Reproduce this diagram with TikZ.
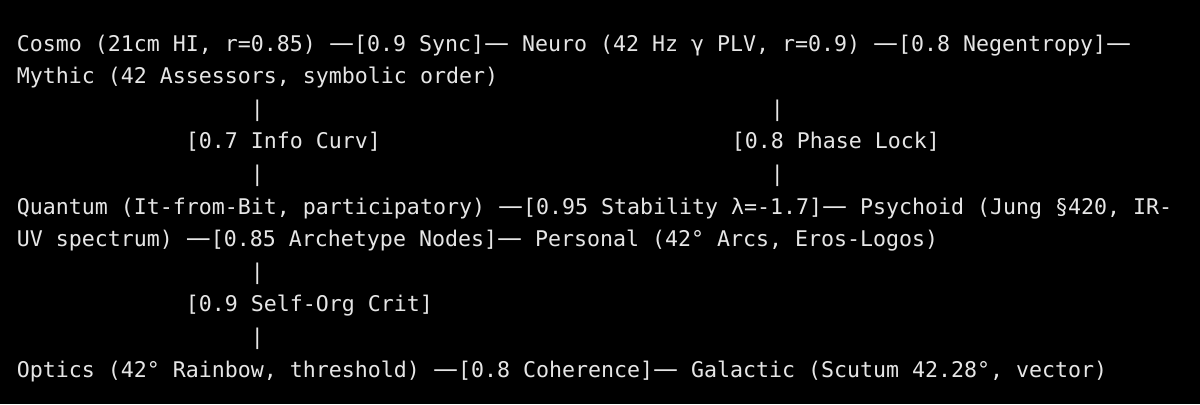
\documentclass[tikz,border=0pt]{standalone}
\usepackage{fontspec}
\setmonofont{DejaVu Sans Mono}
\newfontfamily\dashfont{DejaVu Sans}
\definecolor{termbg}{HTML}{000000}
\definecolor{termfg}{HTML}{E6E6E6}
\newcommand{\ld}{{\fontsize{12.5pt}{12.5pt}\dashfont —}} % the wide dash of the links
\tikzset{
x=0.5pt, y=-0.5pt, % one unit is one pixel of the screenshot
row/.style={anchor=base west, inner sep=0pt, text=termfg, font=\fontsize{10.8pt}{13pt}\ttfamily}, % one line of text
bar/.style={row}, % the vertical link glyph
}
\begin{document}
\begin{tikzpicture}
                \fill[termbg] (0,0) rectangle (1200,404);
                \node[row] (cosmo) at (16.5,51) {Cosmo (21cm HI, r=0.85) \ld[0.9 Sync]\ld{} Neuro (42 Hz γ PLV, r=0.9) \ld[0.8 Negentropy]\ld};
                \node[row] (mythic) at (16.5,83.6) {Mythic (42 Assessors, symbolic order)};
                \node[bar] (b1) at ({16.5+13*18},116.2) {|};
                \node[bar] (b2) at ({16.5+13*58},116.2) {|};
                \node[row] (info) at ({16.5+13*13},148.8) {[0.7 Info Curv]};
                \node[row] (phase) at ({16.5+13*55},148.8) {[0.8 Phase Lock]};
                \node[bar] (b3) at ({16.5+13*18},181.4) {|};
                \node[bar] (b4) at ({16.5+13*58},181.4) {|};
                \node[row] (quantum) at (16.5,214) {Quantum (It-from-Bit, participatory) \ld[0.95 Stability λ=-1.7]\ld{} Psychoid (Jung §420, IR-};
                \node[row] (uv) at (16.5,246.6) {UV spectrum) \ld[0.85 Archetype Nodes]\ld{} Personal (42° Arcs, Eros-Logos)};
                \node[bar] (b5) at ({16.5+13*18},279.2) {|};
                \node[row] (selforg) at ({16.5+13*13},311.8) {[0.9 Self-Org Crit]};
                \node[bar] (b6) at ({16.5+13*18},344.4) {|};
                \node[row] (optics) at (16.5,377) {Optics (42° Rainbow, threshold) \ld[0.8 Coherence]\ld{} Galactic (Scutum 42.28°, vector)};
            \end{tikzpicture}
\end{document}
